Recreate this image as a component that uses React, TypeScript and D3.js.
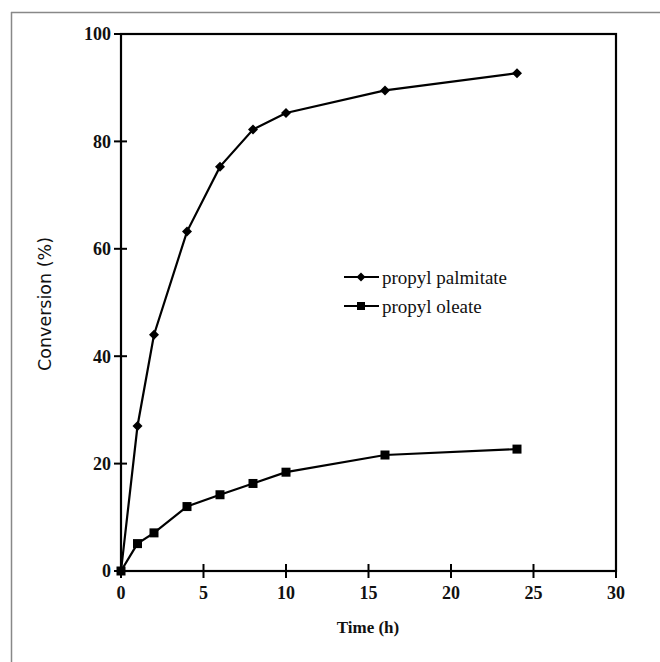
import React from "react";
import * as d3 from "d3";

const timeHours = [0, 1, 2, 4, 6, 8, 10, 16, 24];
const palmitateValues = [0, 27, 44, 63.2, 75.3, 82.2, 85.3, 89.5, 92.7];
const oleateValues = [0, 5.1, 7.1, 12, 14.2, 16.3, 18.4, 21.6, 22.7];
const xTicks = [0, 5, 10, 15, 20, 25, 30];
const yTicks = [0, 20, 40, 60, 80, 100];
const seriesNames = ["propyl palmitate", "propyl oleate"];

export default function App() {
  const W = 660, H = 662;
  const left = 121, right = 616, top = 34, bottom = 571;
  const x = d3.scaleLinear().domain([0, 30]).range([left, right]);
  const y = d3.scaleLinear().domain([0, 100]).range([bottom, top]);
  const line = d3
    .line<[number, number]>()
    .x((d) => x(d[0]))
    .y((d) => y(d[1]));
  const palm: [number, number][] = timeHours.map((t, i) => [t, palmitateValues[i]]);
  const ole: [number, number][] = timeHours.map((t, i) => [t, oleateValues[i]]);
  const diamond = (cx: number, cy: number, r = 5) =>
    `M${cx},${cy - r}L${cx + r},${cy}L${cx},${cy + r}L${cx - r},${cy}Z`;
  const serif = "'Liberation Serif', 'Times New Roman', serif";
  const legX = 344, legY1 = 277, legY2 = 306;

  return (
    <svg
      width={W}
      height={H}
      style={{ position: "absolute", left: 0, top: 0, background: "#fff" }}
    >
      <rect x={0} y={0} width={W} height={H} fill="#fff" />
      {/* outer frame (left and top) */}
      <line x1={11.5} y1={12} x2={11.5} y2={H} stroke="#888" strokeWidth={1.5} />
      <line x1={11} y1={12.5} x2={W} y2={12.5} stroke="#888" strokeWidth={1.5} />

      {/* plot box */}
      <rect
        x={left}
        y={top}
        width={right - left}
        height={bottom - top}
        fill="none"
        stroke="#000"
        strokeWidth={2.2}
      />

      {/* y ticks */}
      {yTicks.map((v) => (
        <g key={"y" + v}>
          <line x1={left - 7} x2={left + 6} y1={y(v)} y2={y(v)} stroke="#000" strokeWidth={2} />
          <text
            x={left - 10}
            y={y(v)}
            dy="0.35em"
            textAnchor="end"
            fontFamily={serif}
            fontSize={18}
            fontWeight="bold"
            fill="#111"
          >
            {v}
          </text>
        </g>
      ))}

      {/* x ticks */}
      {xTicks.map((v) => (
        <g key={"x" + v}>
          <line x1={x(v)} x2={x(v)} y1={bottom - 7} y2={bottom + 7} stroke="#000" strokeWidth={2} />
          <text
            x={x(v)}
            y={bottom + 28}
            textAnchor="middle"
            fontFamily={serif}
            fontSize={18}
            fontWeight="bold"
            fill="#111"
          >
            {v}
          </text>
        </g>
      ))}

      {/* axis titles */}
      <text
        x={368}
        y={633}
        textAnchor="middle"
        fontFamily={serif}
        fontSize={17}
        fontWeight="bold"
        fill="#111"
      >
        Time (h)
      </text>
      <text
        transform={`translate(51,304) rotate(-90)`}
        textAnchor="middle"
        fontFamily="'DejaVu Sans', sans-serif"
        fontSize={17.5}
        fill="#111"
      >
        Conversion (%)
      </text>

      {/* series lines */}
      <path d={line(palm) || ""} fill="none" stroke="#000" strokeWidth={2.2} />
      <path d={line(ole) || ""} fill="none" stroke="#000" strokeWidth={2.2} />

      {/* markers */}
      {palm.map((d, i) => (
        <path key={"p" + i} d={diamond(x(d[0]), y(d[1]))} fill="#000" />
      ))}
      {ole.map((d, i) => (
        <rect key={"o" + i} x={x(d[0]) - 4.5} y={y(d[1]) - 4.5} width={9} height={9} fill="#000" />
      ))}

      {/* legend */}
      <line x1={legX} x2={legX + 35} y1={legY1} y2={legY1} stroke="#000" strokeWidth={2} />
      <path d={diamond(legX + 17, legY1, 4.5)} fill="#000" />
      <text x={legX + 38} y={legY1} dy="0.35em" fontFamily={serif} fontSize={19} fill="#111">
        {seriesNames[0]}
      </text>
      <line x1={legX} x2={legX + 35} y1={legY2} y2={legY2} stroke="#000" strokeWidth={2} />
      <rect x={legX + 13} y={legY2 - 4} width={8} height={8} fill="#000" />
      <text x={legX + 38} y={legY2} dy="0.35em" fontFamily={serif} fontSize={19} fill="#111">
        {seriesNames[1]}
      </text>
    </svg>
  );
}
